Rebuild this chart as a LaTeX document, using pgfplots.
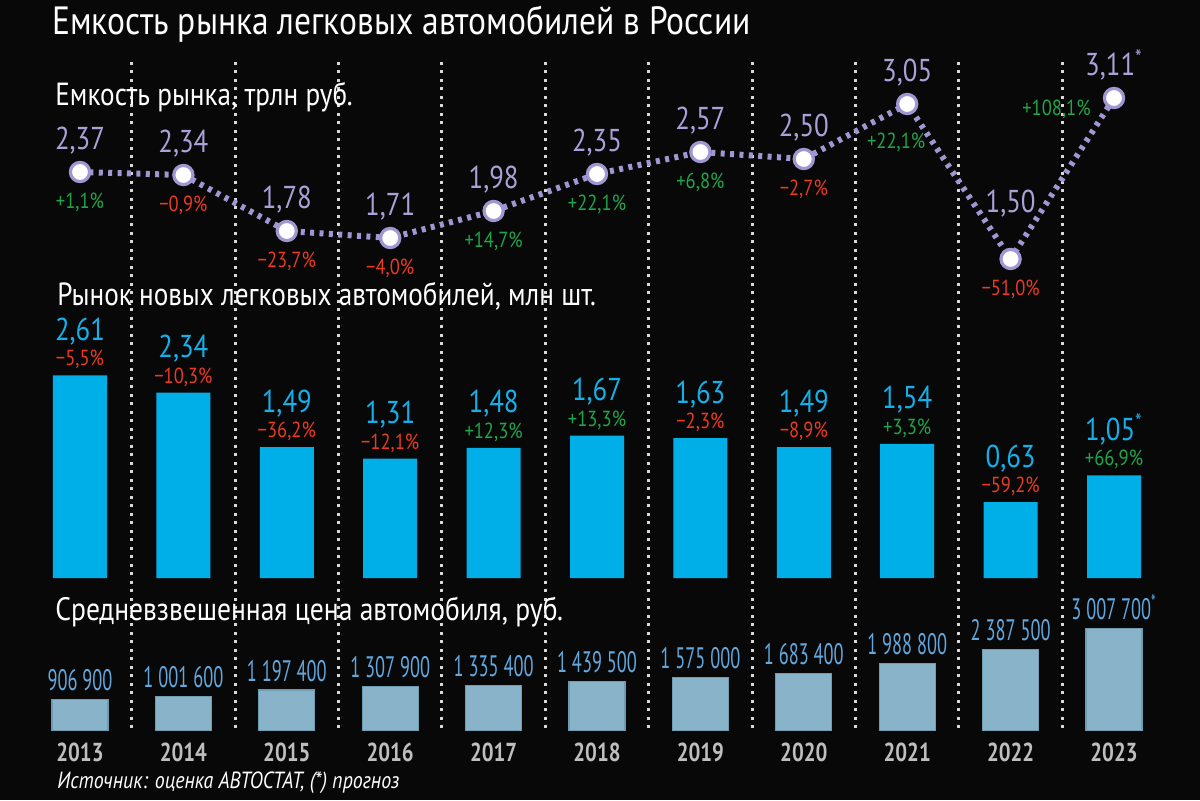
\documentclass[border=0pt]{standalone}
\usepackage{pgfplots}
\pgfplotsset{compat=1.18}
\usepackage{fontspec}
\setmainfont{PT Sans}[FakeStretch=0.85]
\newfontfamily\narrowfont{PT Sans}[FakeStretch=0.62]
\newfontfamily\yearfont{PT Sans}[FakeStretch=0.8]
\definecolor{bg}{HTML}{080808}
\definecolor{lav}{HTML}{9F97D2}
\definecolor{lavtext}{HTML}{A9A1D8}
\definecolor{pgreen}{HTML}{1FA64A}
\definecolor{pred}{HTML}{EA3A22}
\definecolor{cyanbar}{HTML}{00AEE8}
\definecolor{cyantext}{HTML}{14B0EA}
\definecolor{steel}{HTML}{89B3C8}
\definecolor{steeledge}{HTML}{6E9CB3}
\definecolor{pricetext}{HTML}{62A8DE}
\definecolor{yeartext}{HTML}{BEBEBE}
\definecolor{sep}{HTML}{D8D8D8}

\tikzset{pct/.style={font=\fontsize{10.9}{11}\selectfont, anchor=base, inner sep=0pt}}
\pgfplotsset{
  base/.style={scale only axis, width=568.7pt, xmin=-0.5, xmax=10.5, clip=false, anchor=south west},
  lbl/.style={draw=none, mark=none, nodes near coords, point meta=explicit symbolic},
}

\begin{document}
\begin{tikzpicture}[x=1pt,y=1pt]
\fill[bg] (0,0) rectangle (600,400);

% dotted separators
\begin{axis}[base, at={(14.15pt,36pt)}, height=334pt, ymin=0, ymax=1,
  xtick={0.5,1.5,...,9.5}, xticklabels={}, ytick=\empty,
  xmajorgrids, major grid style={sep, line width=1.5pt, dash pattern=on 1.5pt off 2.75pt},
  axis line style={draw=none}, tick style={draw=none}]
\end{axis}

% Panel 1: market capacity
\begin{axis}[base, hide axis, at={(14.15pt,245.5pt)}, height=130pt, ymin=1.0, ymax=3.6]
\addplot[lav, line width=3pt, dash pattern=on 2pt off 2.7pt,
  mark=*, mark size=4.8pt, mark options={solid, fill=white, draw=lav, line width=1.6pt}]
  coordinates {(0,2.37)(1,2.34)(2,1.78)(3,1.71)(4,1.98)(5,2.35)(6,2.57)(7,2.50)(8,3.05)(9,1.50)(10,3.11)};
\addplot[lbl, nodes near coords style={font=\fontsize{15.8}{16}\selectfont, text=lavtext, anchor=base, inner sep=0pt, yshift=11pt}]
  coordinates {(0,2.37)[2,37] (1,2.34)[2,34] (2,1.78)[1,78] (3,1.71)[1,71] (4,1.98)[1,98] (5,2.35)[2,35] (6,2.57)[2,57] (7,2.50)[2,50] (8,3.05)[3,05] (10,3.11)[3,11\textsuperscript{*}]};
\addplot[lbl, nodes near coords style={font=\fontsize{15.8}{16}\selectfont, text=lavtext, anchor=base, inner sep=0pt, yshift=23pt}]
  coordinates {(9,1.50)[1,50]};
\addplot[lbl, nodes near coords style={pct, text=pgreen, yshift=-18.25pt}]
  coordinates {(0,2.37)[+1,1\%] (4,1.98)[+14,7\%] (5,2.35)[+22,1\%] (6,2.57)[+6,8\%]};
\addplot[lbl, nodes near coords style={pct, text=pred, yshift=-18.25pt}]
  coordinates {(1,2.34)[−0,9\%] (2,1.78)[−23,7\%] (3,1.71)[−4,0\%] (7,2.50)[−2,7\%] (9,1.50)[−51,0\%]};
\addplot[lbl, nodes near coords style={pct, text=pgreen, xshift=-5.5pt, yshift=-22.25pt}]
  coordinates {(8,3.05)[+22,1\%]};
\addplot[lbl, nodes near coords style={pct, anchor=base east, text=pgreen, xshift=-11.5pt, yshift=-8.75pt}]
  coordinates {(10,3.11)[+108,1\%]};
\end{axis}

% Panel 2: new car market
\begin{axis}[base, hide axis, at={(14.15pt,111pt)}, height=128pt, ymin=0, ymax=4.0,
  y filter/.expression={y+0.555}]
\addplot[ybar, bar width=27pt, fill=cyanbar, draw=none]
  coordinates {(0,2.61)(1,2.34)(2,1.49)(3,1.31)(4,1.48)(5,1.67)(6,1.63)(7,1.49)(8,1.54)(9,0.63)(10,1.05)};
\addplot[lbl, nodes near coords style={font=\fontsize{15.8}{16}\selectfont, text=cyantext, anchor=base, inner sep=0pt, yshift=17.5pt}]
  coordinates {(0,2.61)[2,61] (1,2.34)[2,34] (2,1.49)[1,49] (3,1.31)[1,31] (4,1.48)[1,48] (5,1.67)[1,67] (6,1.63)[1,63] (7,1.49)[1,49] (8,1.54)[1,54] (9,0.63)[0,63] (10,1.05)[1,05\textsuperscript{*}]};
\addplot[lbl, nodes near coords style={pct, text=pred, yshift=4.75pt}]
  coordinates {(0,2.61)[−5,5\%] (1,2.34)[−10,3\%] (2,1.49)[−36,2\%] (3,1.31)[−12,1\%] (6,1.63)[−2,3\%] (7,1.49)[−8,9\%] (9,0.63)[−59,2\%]};
\addplot[lbl, nodes near coords style={pct, text=pgreen, yshift=4.75pt}]
  coordinates {(4,1.48)[+12,3\%] (5,1.67)[+13,3\%] (8,1.54)[+3,3\%] (10,1.05)[+66,9\%]};
\end{axis}

% Panel 3: average price
\begin{axis}[base, at={(14.15pt,34.75pt)}, height=55.75pt, ymin=0, ymax=3300000,
  xtick={0,...,10}, xticklabels={2013,2014,2015,2016,2017,2018,2019,2020,2021,2022,2023},
  xticklabel style={font=\yearfont\bfseries\fontsize{13}{13}\selectfont, text=yeartext, anchor=base, inner sep=0pt, yshift=-15.25pt},
  ytick=\empty, axis line style={draw=none}, tick style={draw=none}, scaled y ticks=false]
\addplot[ybar, bar width=28pt, fill=steel, draw=steeledge, line width=0.6pt]
  coordinates {(0,906900)(1,1001600)(2,1197400)(3,1307900)(4,1335400)(5,1439500)(6,1575000)(7,1683400)(8,1988800)(9,2387500)(10,3007700)};
\addplot[lbl, nodes near coords style={font=\narrowfont\fontsize{14.8}{15}\selectfont, text=pricetext, anchor=base, inner sep=0pt, yshift=4.5pt}]
  coordinates {(0,906900)[906 900] (1,1001600)[1 001 600] (2,1197400)[1 197 400] (3,1307900)[1 307 900] (4,1335400)[1 335 400] (5,1439500)[1 439 500] (6,1575000)[1 575 000] (7,1683400)[1 683 400] (8,1988800)[1 988 800] (9,2387500)[2 387 500] (10,3007700)[3 007 700\textsuperscript{*}]};
\end{axis}

% titles
\node[anchor=base west, inner sep=0pt, text=white, font=\fontsize{19.7}{20}\selectfont] at (26pt,382.5pt) {Емкость рынка легковых автомобилей в России};
\node[anchor=base west, inner sep=0pt, text=white, font=\fontsize{16}{17}\selectfont] at (27.5pt,347pt) {Емкость рынка, трлн руб.};
\node[anchor=base west, inner sep=0pt, text=white, font=\fontsize{16}{17}\selectfont] at (28.5pt,247.5pt) {Рынок новых легковых автомобилей, млн шт.};
\node[anchor=base west, inner sep=0pt, text=white, font=\fontsize{16.2}{17}\selectfont] at (27.5pt,90pt) {Средневзвешенная цена автомобиля, руб.};
\node[anchor=base west, inner sep=0pt, text=white, font=\itshape\fontsize{11.7}{12}\selectfont] at (28.5pt,6pt) {Источник: оценка АВТОСТАТ, (*) прогноз};

\pgfresetboundingbox
\useasboundingbox (0,0) rectangle (600,400);
\end{tikzpicture}
\end{document}
